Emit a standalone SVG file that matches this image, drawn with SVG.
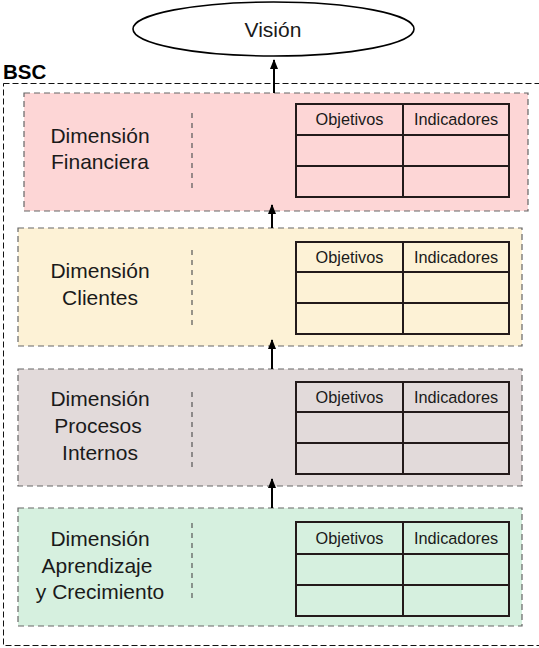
<svg xmlns="http://www.w3.org/2000/svg" width="539" height="648" viewBox="0 0 539 648">
<style>
.lbl{font-family:"Liberation Sans",Arial,sans-serif;font-size:21px;fill:#1a1a1a;text-anchor:middle}
.hdr{font-family:"Liberation Sans",Arial,sans-serif;font-size:16.3px;fill:#1a1a1a;text-anchor:middle}
.box{stroke:#666;stroke-width:1.2;stroke-dasharray:6 4}
.div{stroke:#555;stroke-width:1.2;stroke-dasharray:5 5;fill:none}
.tbl{fill:none;stroke:#231a1a;stroke-width:2}
.arr{stroke:#000;stroke-width:2;fill:none;marker-end:url(#ah)}
</style>
<defs>
<marker id="ah" markerWidth="10" markerHeight="8" refX="9" refY="4" orient="auto" markerUnits="userSpaceOnUse" viewBox="0 0 10 8">
<path d="M10 4 L0 0 L0 8 Z" fill="#000"/>
</marker>
</defs>
<rect width="539" height="648" fill="#fff"/>
<g id="bsc">
<rect x="3.5" y="83.5" width="560" height="562" fill="none" stroke="#111" stroke-width="1" stroke-dasharray="6 3"/>
<text x="3" y="79" font-family="Liberation Sans,Arial,sans-serif" font-size="20.5" font-weight="bold" fill="#000">BSC</text>
</g>
<g id="vision">
<ellipse cx="273.5" cy="29" rx="140.5" ry="27" fill="#fff" stroke="#000" stroke-width="1.6"/>
<text x="273" y="37" class="lbl">Visión</text>
</g>
<g id="financiera">
<rect x="24" y="93" width="504" height="118" fill="#fdd6d6" class="box"/>
<line x1="192" y1="113" x2="192" y2="190" class="div"/>
<text x="100" y="143" class="lbl">Dimensión</text>
<text x="100" y="169" class="lbl">Financiera</text>
<rect x="296" y="104" width="213" height="93" class="tbl"/>
<path d="M403 104V197M296 135H509M296 166H509" class="tbl"/>
<text x="349.5" y="125" class="hdr">Objetivos</text>
<text x="456" y="125" class="hdr">Indicadores</text>
</g>
<g id="clientes">
<rect x="18" y="228" width="504" height="118" fill="#fdf2d6" class="box"/>
<line x1="192" y1="250" x2="192" y2="327" class="div"/>
<text x="100" y="278" class="lbl">Dimensión</text>
<text x="100" y="305" class="lbl">Clientes</text>
<rect x="296" y="242" width="213" height="92" class="tbl"/>
<path d="M403 242V334M296 272H509M296 303H509" class="tbl"/>
<text x="349.5" y="262.5" class="hdr">Objetivos</text>
<text x="456" y="262.5" class="hdr">Indicadores</text>
</g>
<g id="procesos">
<rect x="18" y="369" width="504" height="117" fill="#e2dada" class="box"/>
<line x1="192" y1="392" x2="192" y2="468" class="div"/>
<text x="100" y="406" class="lbl">Dimensión</text>
<text x="98" y="433" class="lbl">Procesos</text>
<text x="100" y="460" class="lbl">Internos</text>
<rect x="296" y="382" width="213" height="92" class="tbl"/>
<path d="M403 382V474M296 412H509M296 443H509" class="tbl"/>
<text x="349.5" y="402.5" class="hdr">Objetivos</text>
<text x="456" y="402.5" class="hdr">Indicadores</text>
</g>
<g id="aprendizaje">
<rect x="18" y="508" width="504" height="118" fill="#d6f0df" class="box"/>
<line x1="192" y1="523" x2="192" y2="602" class="div"/>
<text x="100" y="546" class="lbl">Dimensión</text>
<text x="97" y="573" class="lbl">Aprendizaje</text>
<text x="100" y="599" class="lbl">y Crecimiento</text>
<rect x="296" y="522" width="213" height="94" class="tbl"/>
<path d="M403 522V616M296 554H509M296 585H509" class="tbl"/>
<text x="349.5" y="543.5" class="hdr">Objetivos</text>
<text x="456" y="543.5" class="hdr">Indicadores</text>
</g>
<g id="connectors">
<line x1="274" y1="93" x2="274" y2="60" class="arr"/>
<line x1="272" y1="228" x2="272" y2="205" class="arr"/>
<line x1="272" y1="369" x2="272" y2="340" class="arr"/>
<line x1="272" y1="508" x2="272" y2="479" class="arr"/>
</g>
</svg>
